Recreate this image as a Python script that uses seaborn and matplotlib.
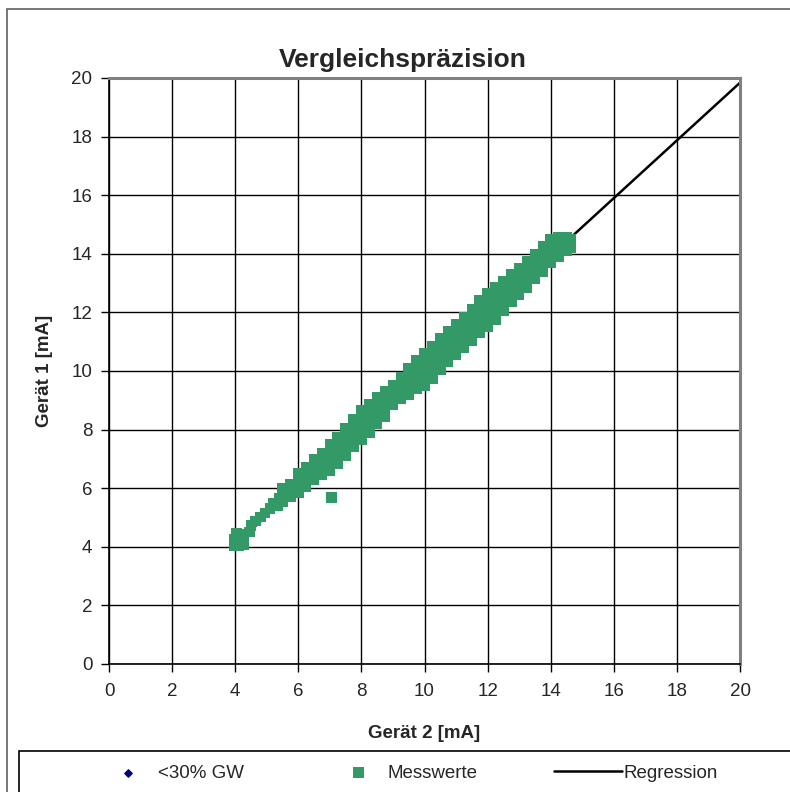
import seaborn as sns
import matplotlib.pyplot as plt
import matplotlib.patches as mpatches
import pandas as pd

# sparse points at the lower end of the band (Gerät 2, Gerät 1)
start_x = [3.98, 4.12, 4.26, 3.98, 4.12, 4.26, 4.05, 4.20, 4.45, 4.50, 4.65, 4.80, 4.95, 5.10, 5.20, 5.35, 5.40, 7.05]
start_y = [4.05, 4.05, 4.08, 4.25, 4.28, 4.25, 4.45, 4.42, 4.50, 4.72, 4.88, 5.02, 5.15, 5.30, 5.50, 5.40, 5.65, 5.68]

# dense band: Gerät 2 value and the Gerät 1 values read at that position
band_x = [5.50, 5.75, 6.00, 6.25, 6.50, 6.75, 7.00, 7.25, 7.50, 7.75,
          8.00, 8.25, 8.50, 8.75, 9.00, 9.25, 9.50, 9.75, 10.00, 10.25,
          10.50, 10.75, 11.00, 11.25, 11.50, 11.75, 12.00, 12.25, 12.50, 12.75,
          13.00, 13.25, 13.50, 13.75, 14.00, 14.25, 14.50, 14.62]
band_y = [[5.55, 5.65, 5.78, 5.90, 6.00], [5.70, 5.80, 5.92, 6.05, 6.15],
          [5.85, 6.00, 6.18, 6.35, 6.50], [6.05, 6.20, 6.38, 6.55, 6.70],
          [6.30, 6.48, 6.65, 6.82, 7.00], [6.45, 6.65, 6.82, 7.00, 7.20],
          [6.60, 6.82, 7.05, 7.28, 7.50], [6.85, 7.08, 7.30, 7.52, 7.75],
          [7.10, 7.35, 7.58, 7.82, 8.05], [7.40, 7.62, 7.88, 8.12, 8.35],
          [7.65, 7.90, 8.15, 8.40, 8.65], [7.90, 8.15, 8.38, 8.62, 8.85],
          [8.20, 8.42, 8.65, 8.88, 9.10], [8.45, 8.65, 8.88, 9.10, 9.30],
          [8.85, 9.00, 9.18, 9.35, 9.50], [9.05, 9.25, 9.42, 9.60, 9.80],
          [9.20, 9.42, 9.65, 9.88, 10.10], [9.40, 9.65, 9.88, 10.12, 10.35],
          [9.50, 9.78, 10.05, 10.32, 10.60], [9.75, 10.02, 10.30, 10.58, 10.85],
          [10.05, 10.30, 10.58, 10.85, 11.10], [10.30, 10.55, 10.82, 11.08, 11.35],
          [10.55, 10.80, 11.08, 11.35, 11.60], [10.80, 11.05, 11.32, 11.58, 11.85],
          [11.05, 11.30, 11.58, 11.85, 12.10], [11.30, 11.58, 11.85, 12.12, 12.40],
          [11.50, 11.80, 12.08, 12.38, 12.65], [11.75, 12.02, 12.30, 12.58, 12.85],
          [12.05, 12.30, 12.55, 12.80, 13.05], [12.35, 12.58, 12.82, 13.05, 13.30],
          [12.60, 12.82, 13.05, 13.28, 13.50], [12.85, 13.08, 13.30, 13.52, 13.75],
          [13.15, 13.35, 13.58, 13.80, 14.00], [13.40, 13.62, 13.82, 14.05, 14.25],
          [13.70, 13.90, 14.10, 14.30, 14.50], [13.90, 14.08, 14.25, 14.42, 14.58],
          [14.10, 14.22, 14.35, 14.48, 14.58], [14.20, 14.28, 14.36, 14.44, 14.50]]

# regression line end points
reg_x = [3.9, 20.0]
reg_y = [3.98, 19.84]

# <30% GW series has no visible points
gw_x = []
gw_y = []

ticks = list(range(0, 21, 2))

rows = [(x, y) for x, y in zip(start_x, start_y)]
for x, ys in zip(band_x, band_y):
    rows += [(x, y) for y in ys]
df = pd.DataFrame(rows, columns=['geraet2', 'geraet1'])
reg = pd.DataFrame({'geraet2': reg_x, 'geraet1': reg_y})

sns.set_style('white')
plt.rcParams['font.family'] = ['Liberation Sans', 'DejaVu Sans']

fig = plt.figure(figsize=(7.9, 7.92), dpi=100)
ax = fig.add_axes([109 / 790, 1 - 664 / 792, 631 / 790, 586 / 792])

ax.scatter(gw_x, gw_y, marker='D', s=14, color='#000080', label='<30% GW')
sns.scatterplot(data=df, x='geraet2', y='geraet1', ax=ax, marker='s', s=58,
                color='#339966', edgecolor='none', linewidth=0,
                label='Messwerte', zorder=3)
sns.lineplot(data=reg, x='geraet2', y='geraet1', ax=ax, color='black',
             linewidth=1.8, label='Regression', zorder=2)

ax.set_xlim(0, 20)
ax.set_ylim(0, 20)
ax.set_xticks(ticks)
ax.set_yticks(ticks)
ax.grid(True, color='black', linewidth=1)
ax.set_axisbelow(True)
ax.tick_params(axis='both', direction='out', length=6, width=1, color='black',
               labelsize=13.5, bottom=True, left=True)
ax.tick_params(axis='x', pad=8)
ax.tick_params(axis='y', pad=6)
for side in ['left', 'bottom']:
    ax.spines[side].set_color('black')
    ax.spines[side].set_linewidth(1.2)
for side in ['top', 'right']:
    ax.spines[side].set_color('#808080')
    ax.spines[side].set_linewidth(2.2)

ax.set_title('Vergleichspräzision', fontsize=19, fontweight='bold', pad=8,
             x=(403 - 109) / 631)
ax.set_xlabel('Gerät 2 [mA]', fontsize=13.5, fontweight='bold', labelpad=18)
ax.set_ylabel('Gerät 1 [mA]', fontsize=13.5, fontweight='bold', labelpad=13)

# outer chart frame and legend box
fig.patches.append(mpatches.Rectangle((7 / 790, -0.01), 1.0, 1 - 9 / 792 + 0.01,
                                      transform=fig.transFigure, fill=False,
                                      edgecolor='#606060', linewidth=1.2))
fig.patches.append(mpatches.Rectangle((19 / 790, -0.01), 1.0, 1 - 751 / 792 + 0.01,
                                      transform=fig.transFigure, fill=False,
                                      edgecolor='black', linewidth=1.2))

if ax.legend_:
    ax.legend_.remove()
handles, labels = ax.get_legend_handles_labels()
leg_y = 1 - 773 / 792
slots = [(109, 2.0, 0.64), (340, 2.0, 0.55), (554, 3.6, 0.1)]
for h, l, (x0, hl, tp) in zip(handles, labels, slots):
    fig.legend([h], [l], loc='center left', bbox_to_anchor=(x0 / 790, leg_y),
               frameon=False, fontsize=13.5, borderpad=0, borderaxespad=0,
               handlelength=hl, handletextpad=tp)

fig.savefig('out.png', dpi=100)
